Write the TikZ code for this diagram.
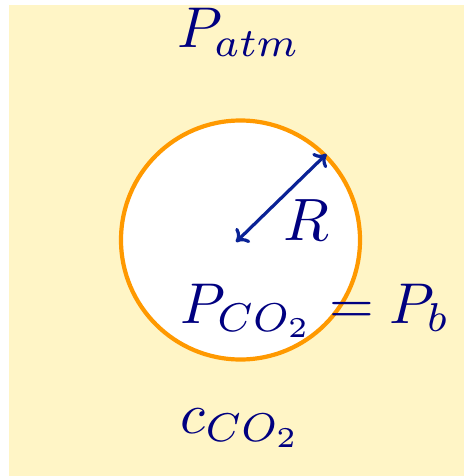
\documentclass[tikz,border=0pt]{standalone}
\usetikzlibrary{arrows.meta}
\definecolor{bgyellow}{HTML}{FFF5C6}
\definecolor{rimorange}{HTML}{FF9900}
\definecolor{txtblue}{HTML}{000080}
\definecolor{arrblue}{HTML}{0A2296}
\tikzset{
  lbl/.style={anchor=base, inner sep=0pt, text=txtblue, scale=5.75},
  radtip/.tip={To[length=11pt,width=20pt]},
}
\begin{document}
\begin{tikzpicture}[x=1pt,y=-1pt]
\useasboundingbox (0,0) rectangle (464,476);
\fill[bgyellow] (9,5) rectangle (464,476);
\node[circle, draw=rimorange, fill=white, line width=4.2pt, minimum size=239pt, inner sep=0pt] (bubble) at (240.5,240) {};
\coordinate (ctr) at (236,242);
\draw[arrblue, line width=3.2pt, radtip-radtip] (ctr) -- (bubble.45);
\node[lbl] (patm) at (239,48) {$P_{atm}$};
\node[lbl, scale=1.04] (rad) at (306,240) {$R$};
\node[lbl] (pco) at (315,323) {$P_{CO_2}=P_b$};
\node[lbl] (cco) at (241,433) {$c_{CO_2}$};
\end{tikzpicture}
\end{document}
